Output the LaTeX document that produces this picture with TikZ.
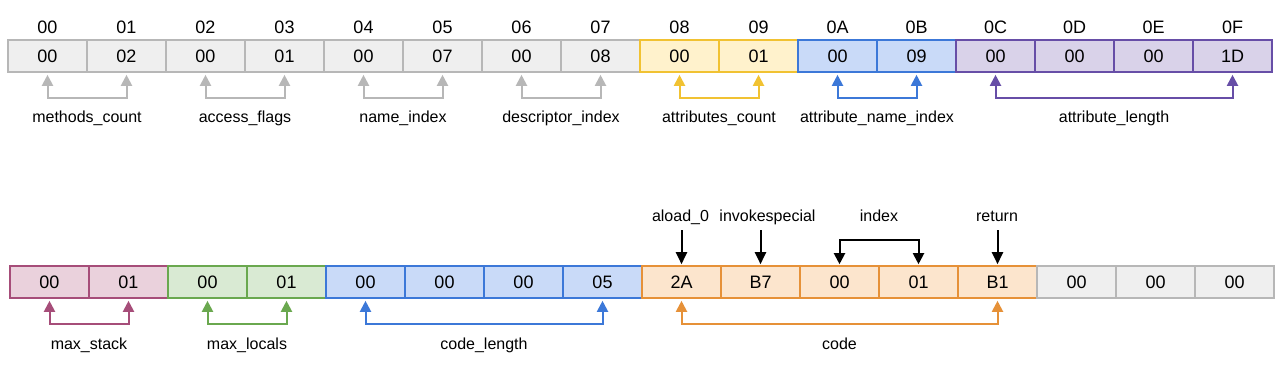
\documentclass[tikz,border=0pt]{standalone}
\usepackage{fontspec}
\setmainfont{Liberation Sans}
\usetikzlibrary{arrows.meta}

\definecolor{grayfill}{HTML}{EFEFEF}
\definecolor{grayline}{HTML}{B7B7B7}
\definecolor{yelfill}{HTML}{FFF2CC}
\definecolor{yelline}{HTML}{F1C232}
\definecolor{bluefill}{HTML}{C9DAF8}
\definecolor{blueline}{HTML}{3C78D8}
\definecolor{purfill}{HTML}{D9D2E9}
\definecolor{purline}{HTML}{674EA7}
\definecolor{pinkfill}{HTML}{EAD1DC}
\definecolor{pinkline}{HTML}{A64D79}
\definecolor{grnfill}{HTML}{D9EAD3}
\definecolor{grnline}{HTML}{6AA84F}
\definecolor{orgfill}{HTML}{FCE5CD}
\definecolor{orgline}{HTML}{E69138}

\begin{document}
\begin{tikzpicture}[x=1pt,y=-1pt]

\useasboundingbox (0,0) rectangle (1284,370);

\tikzstyle{cell}=[draw,minimum width=79pt,minimum height=32pt,inner sep=0pt,line width=1.6pt,font=\fontsize{18}{20}\selectfont];
\tikzstyle{hdr}=[inner sep=0pt,font=\fontsize{18}{20}\selectfont];
\tikzstyle{lbl}=[inner sep=0pt,text height=12pt,text depth=4pt,font=\fontsize{16}{18}\selectfont];
\tikzstyle{gry}=[cell,fill=grayfill,draw=grayline];
\tikzstyle{yel}=[cell,fill=yelfill,draw=yelline];
\tikzstyle{blu}=[cell,fill=bluefill,draw=blueline];
\tikzstyle{pur}=[cell,fill=purfill,draw=purline];
\tikzstyle{pnk}=[cell,fill=pinkfill,draw=pinkline];
\tikzstyle{grn}=[cell,fill=grnfill,draw=grnline];
\tikzstyle{org}=[cell,fill=orgfill,draw=orgline];

% Offsets above the first row
\node[hdr] (h0) at (47.5,27) {00};
\node[hdr] (h1) at (126.5,27) {01};
\node[hdr] (h2) at (205.5,27) {02};
\node[hdr] (h3) at (284.5,27) {03};
\node[hdr] (h4) at (363.5,27) {04};
\node[hdr] (h5) at (442.5,27) {05};
\node[hdr] (h6) at (521.5,27) {06};
\node[hdr] (h7) at (600.5,27) {07};
\node[hdr] (h8) at (679.5,27) {08};
\node[hdr] (h9) at (758.5,27) {09};
\node[hdr] (hA) at (837.5,27) {0A};
\node[hdr] (hB) at (916.5,27) {0B};
\node[hdr] (hC) at (995.5,27) {0C};
\node[hdr] (hD) at (1074.5,27) {0D};
\node[hdr] (hE) at (1153.5,27) {0E};
\node[hdr] (hF) at (1232.5,27) {0F};

% First row of bytes
\node[gry] (a0) at (47.5,56) {00};
\node[gry] (a1) at (126.5,56) {02};
\node[gry] (a2) at (205.5,56) {00};
\node[gry] (a3) at (284.5,56) {01};
\node[gry] (a4) at (363.5,56) {00};
\node[gry] (a5) at (442.5,56) {07};
\node[gry] (a6) at (521.5,56) {00};
\node[gry] (a7) at (600.5,56) {08};
\node[yel] (a8) at (679.5,56) {00};
\node[yel] (a9) at (758.5,56) {01};
\node[blu] (aA) at (837.5,56) {00};
\node[blu] (aB) at (916.5,56) {09};
\node[pur] (aC) at (995.5,56) {00};
\node[pur] (aD) at (1074.5,56) {00};
\node[pur] (aE) at (1153.5,56) {00};
\node[pur] (aF) at (1232.5,56) {1D};

% Second row of bytes
\node[pnk] (b0) at (49.5,282) {00};
\node[pnk] (b1) at (128.5,282) {01};
\node[grn] (b2) at (207.5,282) {00};
\node[grn] (b3) at (286.5,282) {01};
\node[blu] (b4) at (365.5,282) {00};
\node[blu] (b5) at (444.5,282) {00};
\node[blu] (b6) at (523.5,282) {00};
\node[blu] (b7) at (602.5,282) {05};
\node[org] (b8) at (681.5,282) {2A};
\node[org] (b9) at (760.5,282) {B7};
\node[org] (bA) at (839.5,282) {00};
\node[org] (bB) at (918.5,282) {01};
\node[org] (bC) at (997.5,282) {B1};
\node[gry] (bD) at (1076.5,282) {00};
\node[gry] (bE) at (1155.5,282) {00};
\node[gry] (bF) at (1234.5,282) {00};

% Field names
\node[lbl] (lmc) at (87,118) {methods\_count};
\node[lbl] (laf) at (245,118) {access\_flags};
\node[lbl] (lni) at (403,118) {name\_index};
\node[lbl] (ldi) at (561,118) {descriptor\_index};
\node[lbl] (lac) at (719,118) {attributes\_count};
\node[lbl] (lani) at (877,118) {attribute\_name\_index};
\node[lbl] (lal) at (1114,118) {attribute\_length};
\node[lbl] (lms) at (89,345) {max\_stack};
\node[lbl] (lml) at (247,345) {max\_locals};
\node[lbl] (lcl) at (484,345) {code\_length};
\node[lbl] (lcode) at (839.5,345) {code};
\node[lbl] (lload) at (680.5,217) {aload\_0};
\node[lbl] (linv) at (767.5,217) {invokespecial};
\node[lbl] (lidx) at (879,217) {index};
\node[lbl] (lret) at (997,217) {return};

\tikzset{tip/.style={{Triangle[width=11pt,length=11pt]}-{Triangle[width=11pt,length=11pt]}}};
\tikzset{brk/.style={tip,line width=2pt,shorten <=2pt,shorten >=2pt,
  to path={-- ++(0,25) -| (\tikztotarget)}}};
\tikzset{brkup/.style={tip,line width=2pt,shorten <=1pt,shorten >=1pt,
  to path={-- ++(0,-25) -| (\tikztotarget)}}};
\tikzset{ptr/.style={-{Triangle[width=11pt,length=12pt]},line width=2pt,shorten <=5pt,shorten >=1pt}};

% Brackets under the fields
\path
  (a0.south) edge[brk,grayline] (a1.south)
  (a2.south) edge[brk,grayline] (a3.south)
  (a4.south) edge[brk,grayline] (a5.south)
  (a6.south) edge[brk,grayline] (a7.south)
  (a8.south) edge[brk,yelline] (a9.south)
  (aA.south) edge[brk,blueline] (aB.south)
  (aC.south) edge[brk,purline] (aF.south)
  (b0.south) edge[brk,pinkline] (b1.south)
  (b2.south) edge[brk,grnline] (b3.south)
  (b4.south) edge[brk,blueline] (b7.south)
  (b8.south) edge[brk,orgline] (bC.south)
  (bA.north) edge[brkup,black] (bB.north);

% Opcodes
\draw[ptr] (lload.south -| b8.north) -- (b8.north);
\draw[ptr] (linv.south -| b9.north) -- (b9.north);
\draw[ptr] (lret.south -| bC.north) -- (bC.north);

\end{tikzpicture}
\end{document}
